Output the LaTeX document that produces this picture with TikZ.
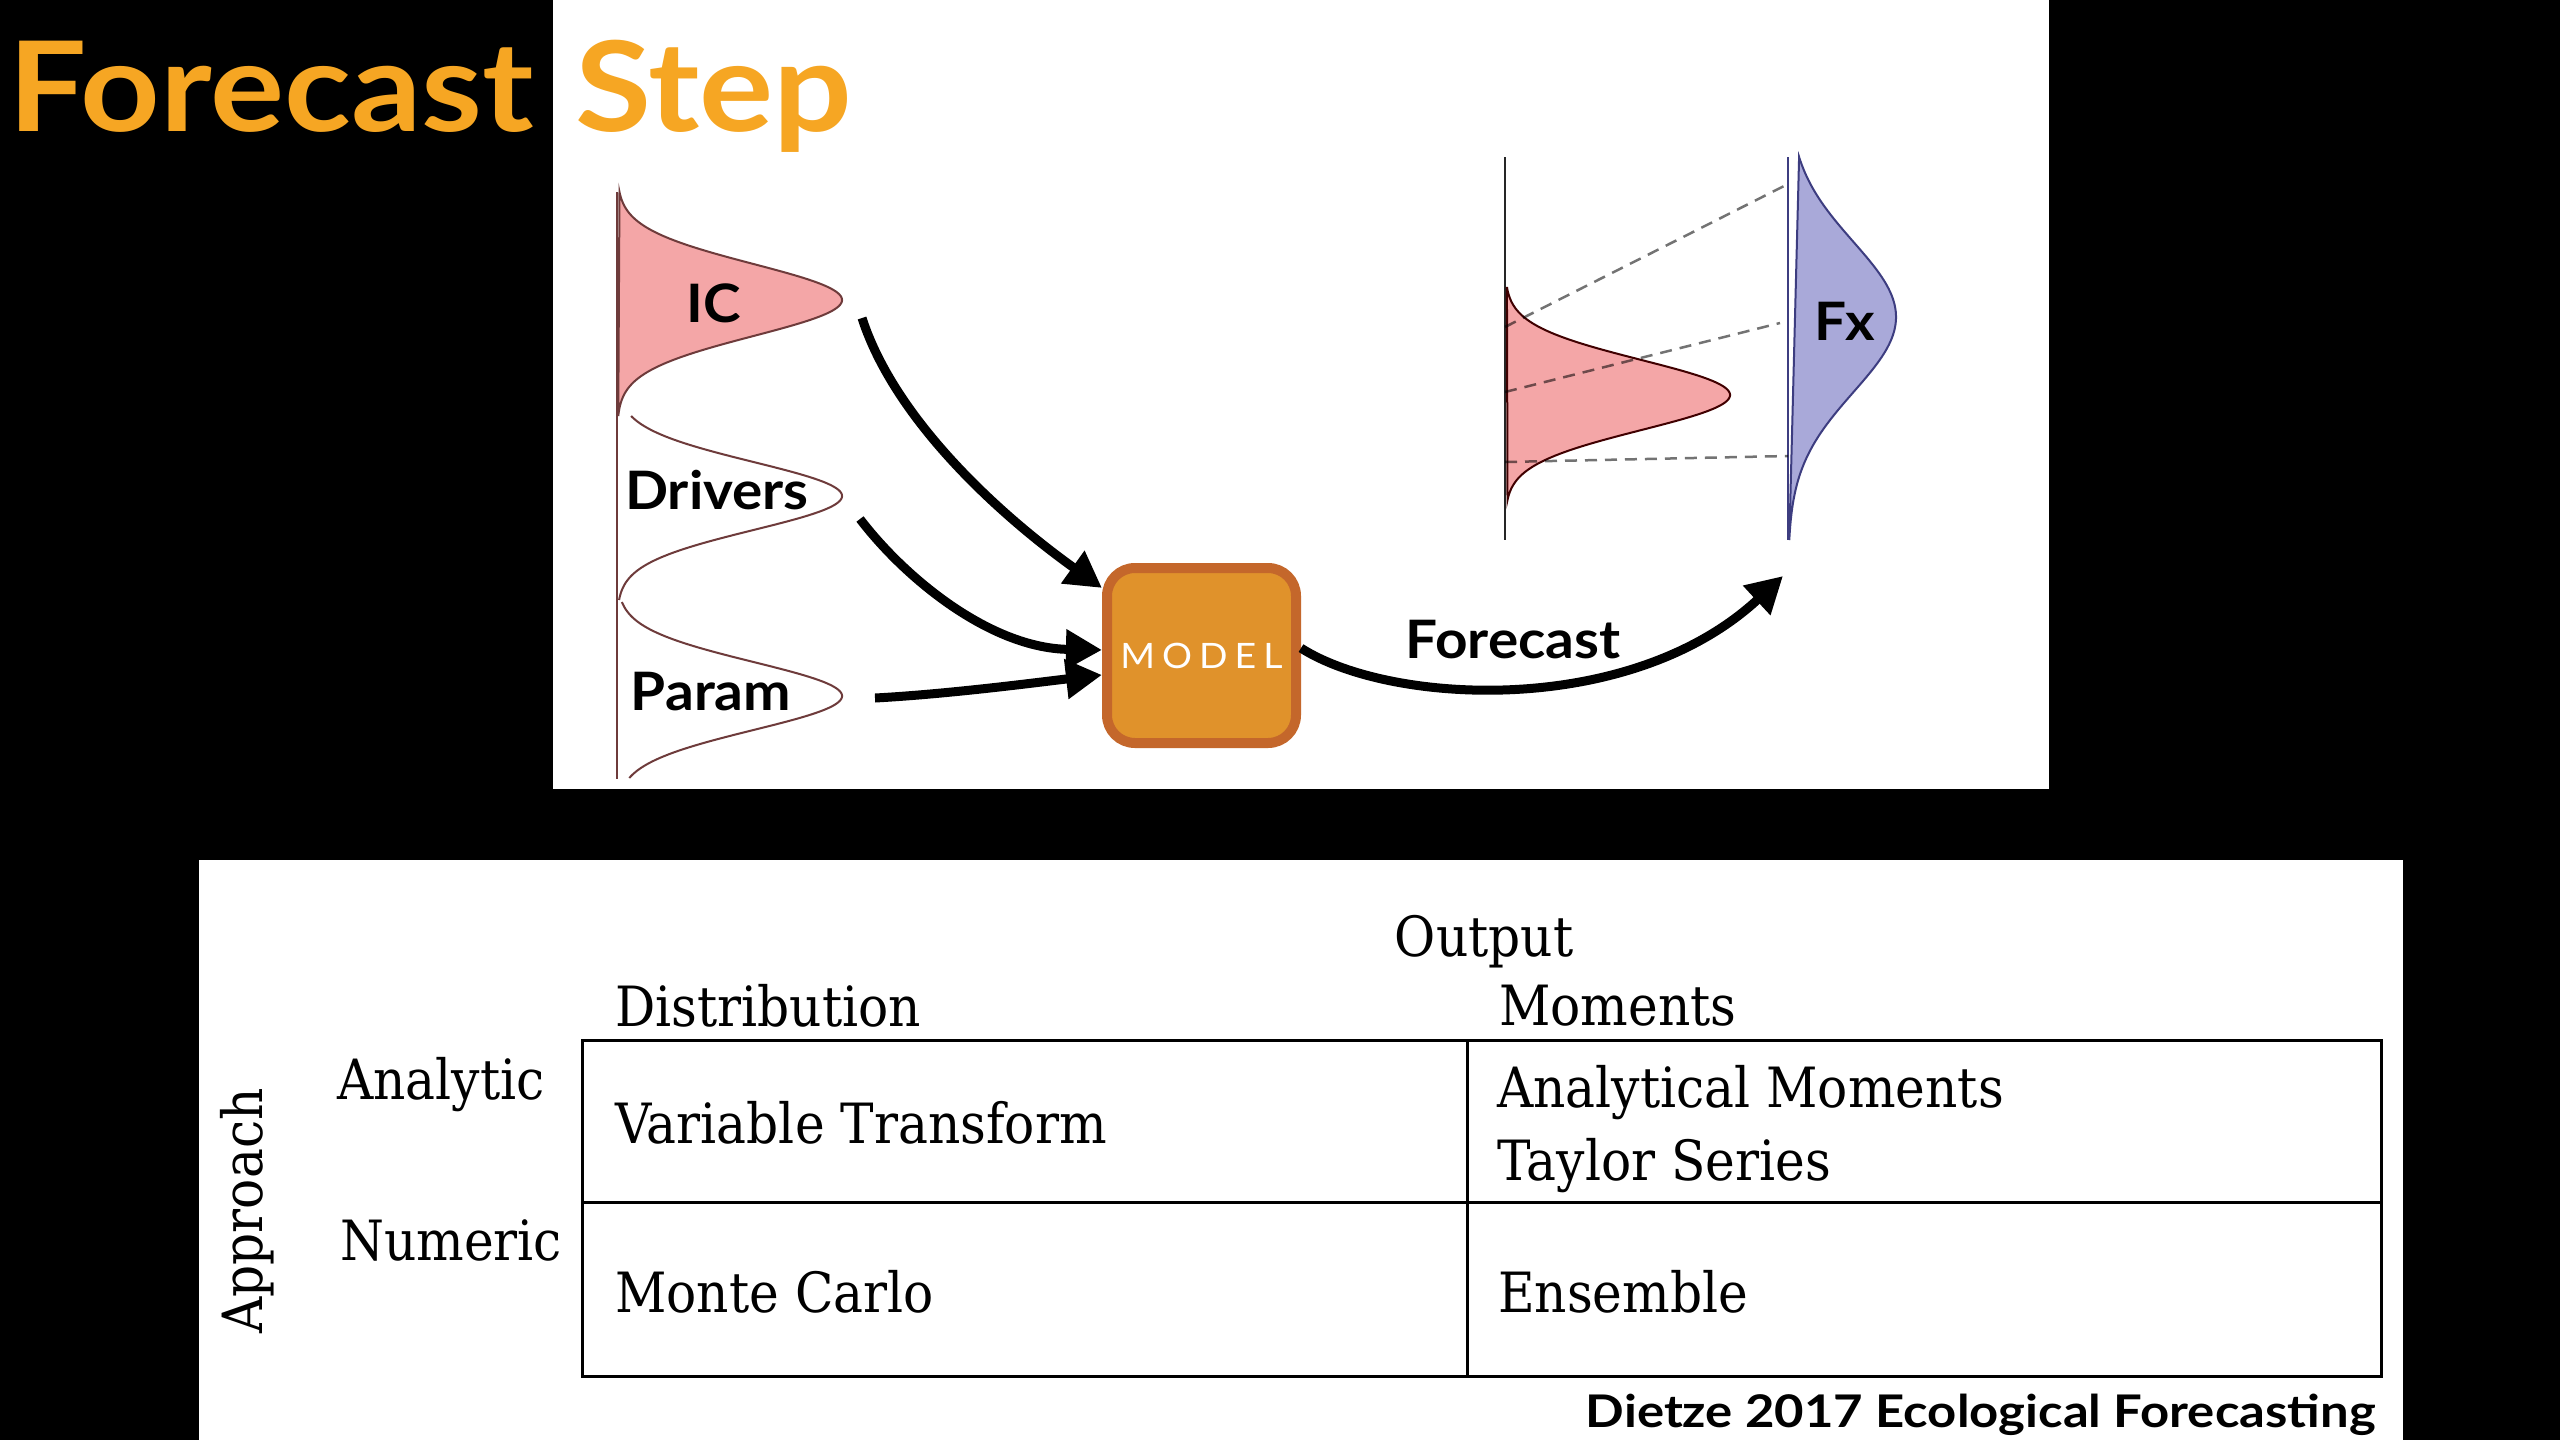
\documentclass[tikz,border=0pt]{standalone}
\usepackage{fontspec}
\setmainfont[FakeStretch=0.905]{DejaVu Serif}
\newfontfamily\latofont[FakeStretch=1.07]{Lato}
\newfontfamily\titlefont[FakeStretch=1.11]{Lato}
\newfontfamily\citefont[FakeStretch=1.13]{Lato}
\usetikzlibrary{arrows.meta,calc}
\definecolor{titleor}{HTML}{F6A623}
\definecolor{icpink}{HTML}{F4A6A7}
\definecolor{distedge}{HTML}{6E3B3B}
\definecolor{modelfill}{HTML}{E0922B}
\definecolor{modeledge}{HTML}{C4672B}
\definecolor{fxblue}{HTML}{A9A9D9}
\definecolor{fxedge}{HTML}{3D3D80}
\tikzset{
  sanslabel/.style={font=\latofont\bfseries\fontsize{53}{60}\selectfont, inner sep=0pt, anchor=base},
  serif/.style={font=\fontsize{55.5}{62}\selectfont, inner sep=0pt, anchor=base west},
  titletext/.style={anchor=base west, text=titleor, inner sep=0pt, font=\titlefont\bfseries\fontsize{125}{125}\selectfont},
  bigarrow/.style={line width=9pt, -{Triangle[length=36pt,width=38pt]}},
  dashline/.style={black, opacity=0.55, line width=2.5pt, dash pattern=on 12pt off 8pt},
  gridline/.style={line width=3pt, black},
  distline/.style={draw=distedge, line width=2pt},
}
\begin{document}
\begin{tikzpicture}[x=1pt,y=-1pt]
\useasboundingbox (0,0) rectangle (2560,1440);
\fill[black] (0,0) rectangle (2560,1440);
\fill[white] (553,0) rectangle (2049,789);
\fill[white] (199,860) rectangle (2403,1440);

% title
\node[titletext] (title1) at (8,131) {Forecast};
\node[titletext] (title2) at (575,131) {Step};

% left distributions
\draw[distline, fill=icpink] plot[domain=192:416, samples=150, variable=\t]
  ({617+225*exp(-0.5*((\t-300)/36)^2)}, \t) -- cycle;
\draw[distline] plot[domain=416:600, samples=150, variable=\t]
  ({617+225*exp(-0.5*((\t-496)/34)^2)}, \t);
\draw[distline] plot[domain=602:778, samples=150, variable=\t]
  ({617+225*exp(-0.5*((\t-696)/34)^2)}, \t);
\draw[distedge, line width=2.5pt] (617,192) -- (617,779);

\node[sanslabel] (ic) at (714,322) {IC};
\node[sanslabel] (drivers) at (717,509) {Drivers};
\node[sanslabel] (param) at (711,710) {Param};

\coordinate (icA) at (862,318);
\coordinate (drA) at (860,519);
\coordinate (paA) at (875,698);

% model
\node[draw=modeledge, fill=modelfill, line width=10pt, rounded corners=28pt,
      minimum width=189pt, minimum height=175pt, inner sep=0pt, text=white,
      font=\latofont\fontsize{35}{40}\selectfont] (model) at (1201.5,655.5)
      {M\kern7pt O\kern7pt D\kern7pt E\kern7pt L};

\draw[bigarrow] (icA) .. controls (895,420) and (1000,515) .. ($(model.north west)!0.135!(model.south west)$);
\draw[bigarrow] (drA) .. controls (905,578) and (990,648) .. ($(model.north west)!0.47!(model.south west)$);
\draw[bigarrow] (paA) .. controls (950,694) and (1040,682) .. ($(model.north west)!0.605!(model.south west)$);

\coordinate (fxA) at (1783,576);
\draw[bigarrow] ($(model.north east)!0.46!(model.south east)$) .. controls (1390,705) and (1630,718) .. (fxA);
\node[sanslabel] (forecast) at (1513,658) {Forecast};

% right figure
\draw[line width=2.5pt, black!85] (1505,157) -- (1505,540);
\draw[draw=black!75!red, line width=2pt, fill=icpink] plot[domain=287:500, samples=150, variable=\t]
  ({1505+225*exp(-0.5*((\t-395)/35)^2)}, \t) -- cycle;
\draw[draw=fxedge, line width=2pt, fill=fxblue] plot[domain=157:540, samples=150, variable=\t]
  ({1788+108*exp(-0.5*((\t-317)/75)^2)}, \t) -- cycle;
\draw[line width=2.5pt, fxedge] (1788,157) -- (1788,540);
\draw[dashline] (1505,327) -- (1788,184);
\draw[dashline] (1505,392) -- (1780,323);
\draw[dashline] (1505,462) -- (1788,456);
\node[sanslabel] (fx) at (1845,340) {Fx};

% table
\draw[gridline] (582,1040) rectangle (2381,1376);
\draw[gridline] (1467,1040) -- (1467,1376);
\draw[gridline] (582,1202) -- (2381,1202);

\node[serif, anchor=base] (output) at (1484,956) {Output};
\node[serif] (distribution) at (615,1026) {Distribution};
\node[serif] (moments) at (1499,1025) {Moments};
\node[serif] (analytic) at (337,1099) {Analytic};
\node[serif] (numeric) at (340,1260) {Numeric};
\node[serif] (vartrans) at (615,1143) {Variable Transform};
\node[serif] (monte) at (615,1312) {Monte Carlo};
\node[serif] (anmom) at (1497,1107) {Analytical Moments};
\node[serif] (taylor) at (1497,1180) {Taylor Series};
\node[serif] (ensemble) at (1498,1312) {Ensemble};
\node[serif, anchor=base, rotate=90] (approach) at (262,1211) {Approach};

\node[anchor=base east, inner sep=0pt, font=\citefont\bfseries\fontsize{45}{50}\selectfont] (cite) at (2376,1427) {Dietze 2017 Ecological Forecasting};
\end{tikzpicture}
\end{document}
